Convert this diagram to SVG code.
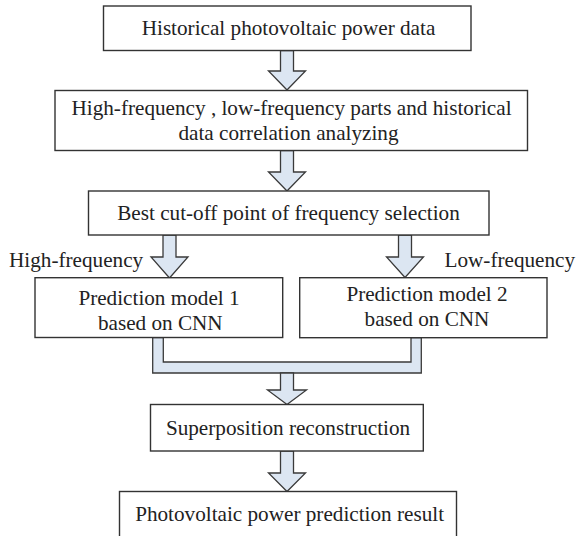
<svg xmlns="http://www.w3.org/2000/svg" width="577" height="536" viewBox="0 0 577 536">
<style>
.box{fill:#ffffff;stroke:#333333;stroke-width:1.4}
.arr{fill:#dce6f2;stroke:#3a3a3a;stroke-width:1.3;stroke-linejoin:miter}
text{font-family:'Liberation Serif','DejaVu Serif',serif;font-size:21.2px;fill:#222222}
.c{text-anchor:middle}
</style>
<rect width="577" height="536" fill="#ffffff"/>
<g id="connectors">
<path class="arr" d="M280.5,50.5 V71 H268.5 L287,90 L305.5,71 H293.5 V50.5 Z"/>
<path class="arr" d="M280.5,150.5 V172 H268.5 L287,191 L305.5,172 H293.5 V150.5 Z"/>
<path class="arr" d="M163,235 V257 H151 L169.5,278 L188,257 H176 V235 Z"/>
<path class="arr" d="M398.5,235 V257 H386.5 L405,277.5 L423.5,257 H411.5 V235 Z"/>
<path class="arr" d="M152.7,337.5 V373 H421.3 V337.5 H411 V362 H163.3 V337.5 Z"/>
<path class="arr" d="M280.5,373 V390 H267.5 L287,404.5 L306.5,390 H293.5 V373 Z"/>
<path class="arr" d="M280.5,451 V473 H268.5 L287,491.5 L305.5,473 H293.5 V451 Z"/>
</g>
<g id="n1">
<rect class="box" x="103.5" y="6" width="367.5" height="44.5"/>
<text class="c" x="288.5" y="35">Historical photovoltaic power data</text>
</g>
<g id="n2">
<rect class="box" x="55" y="90.5" width="472.5" height="60"/>
<text class="c" x="291.5" y="115">High-frequency , low-frequency parts and historical</text>
<text class="c" x="288.5" y="140">data correlation analyzing</text>
</g>
<g id="n3">
<rect class="box" x="88.5" y="191" width="400.5" height="44"/>
<text class="c" x="288.5" y="220">Best cut-off point of frequency selection</text>
</g>
<g id="lbl-high">
<text x="9" y="267">High-frequency</text>
</g>
<g id="lbl-low">
<text x="444.5" y="267">Low-frequency</text>
</g>
<g id="n4">
<rect class="box" x="35" y="277.7" width="247.7" height="59.8"/>
<text class="c" x="159" y="305">Prediction model 1</text>
<text class="c" x="160.3" y="330">based on CNN</text>
</g>
<g id="n5">
<rect class="box" x="299.7" y="277.7" width="247.3" height="60"/>
<text class="c" x="427" y="300.5">Prediction model 2</text>
<text class="c" x="427" y="325.5">based on CNN</text>
</g>
<g id="n6">
<rect class="box" x="150.5" y="404.5" width="272.8" height="46.5"/>
<text class="c" x="288" y="435">Superposition reconstruction</text>
</g>
<g id="n7">
<rect class="box" x="119.5" y="491.5" width="337" height="56"/>
<text class="c" x="289.6" y="521">Photovoltaic power prediction result</text>
</g>
</svg>
